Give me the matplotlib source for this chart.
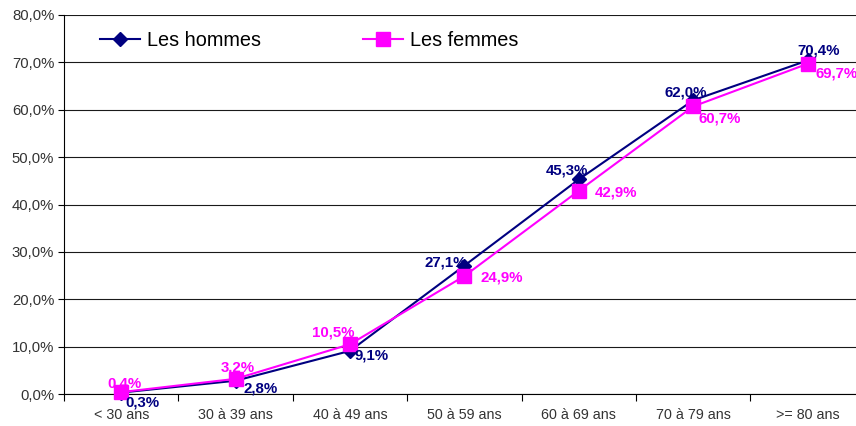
import matplotlib
matplotlib.use("Agg")
import matplotlib.pyplot as plt
from matplotlib.ticker import FuncFormatter

plt.rcParams['font.family'] = ['Liberation Sans', 'DejaVu Sans']

categories = ["< 30 ans", "30 à 39 ans", "40 à 49 ans", "50 à 59 ans",
              "60 à 69 ans", "70 à 79 ans", ">= 80 ans"]
hommes = [0.3, 2.8, 9.1, 27.1, 45.3, 62.0, 70.4]
femmes = [0.4, 3.2, 10.5, 24.9, 42.9, 60.7, 69.7]

# label offsets in pixels (dx, dy with y downward)
off_h = [(21, 10), (25, 8), (22, 5), (-19, -3), (-12, -9), (-7, -8), (11, -10)]
off_f = [(3, -9), (2, -11), (-17, -12), (37, 1), (37, 2), (26, 12), (29, 10)]

NAVY = "#000080"
MAGENTA = "#FF00FF"

W, H = 856, 426
LEFT, TOP, BOTTOM = 64, 15, 394
STEP = 114.4
fig = plt.figure(figsize=(W / 100, H / 100), dpi=100)
ax = fig.add_axes([LEFT / W, (H - BOTTOM) / H, (W - LEFT) / W, (BOTTOM - TOP) / H])

x = list(range(len(categories)))
ax.plot(x, hommes, color=NAVY, lw=1.5, marker="D", ms=7, mfc=NAVY, mec=NAVY,
        label="Les hommes", zorder=3, clip_on=False)
ax.plot(x, femmes, color=MAGENTA, lw=1.5, marker="s", ms=10, mfc=MAGENTA, mec=MAGENTA,
        label="Les femmes", zorder=4, clip_on=False)

px2pt = 0.72
def fmt(v):
    return f"{v:.1f}%".replace(".", ",")

for xi, v, (dx, dy) in zip(x, hommes, off_h):
    ax.annotate(fmt(v), (xi, v), xytext=(dx * px2pt, -dy * px2pt), textcoords="offset points",
                ha="center", va="center", color=NAVY, fontsize=10.8, fontweight="bold",
                zorder=5, annotation_clip=False)
for xi, v, (dx, dy) in zip(x, femmes, off_f):
    ax.annotate(fmt(v), (xi, v), xytext=(dx * px2pt, -dy * px2pt), textcoords="offset points",
                ha="center", va="center", color=MAGENTA, fontsize=10.8, fontweight="bold",
                zorder=5, annotation_clip=False)

ax.set_yticks(range(0, 81, 10))
ax.yaxis.set_major_formatter(FuncFormatter(lambda v, p: f"{v:.1f}%".replace(".", ",")))
ax.yaxis.grid(True, color="#1a1a1a", lw=0.8)
ax.set_axisbelow(True)

ax.set_xticks(x)
ax.set_xticklabels(categories)
ax.set_xticks([i + 0.5 for i in range(-1, 6)], minor=True)
ax.tick_params(axis="x", which="major", length=0, pad=10, labelsize=10.3, labelcolor="#333333")
ax.tick_params(axis="x", which="minor", length=5, width=0.8, direction="out", color="black")
ax.tick_params(axis="y", length=4, width=0.8, direction="out", labelsize=10.7, labelcolor="#333333", pad=3)

# the category axis runs past the right edge of the figure
ax.set_xlim(-0.5, -0.5 + (W - LEFT) / STEP)
ax.set_ylim(0, 80)

for s in ["top", "right"]:
    ax.spines[s].set_visible(False)
ax.spines["left"].set_color("black")
ax.spines["left"].set_linewidth(0.8)
ax.spines["bottom"].set_color("black")
ax.spines["bottom"].set_linewidth(0.8)

leg = ax.legend(ncol=2, loc="center left",
                bbox_to_anchor=((100 - LEFT) / (W - LEFT), (BOTTOM - 40) / (BOTTOM - TOP)),
                frameon=False, fontsize=14.3, handlelength=2.0, handletextpad=0.35,
                columnspacing=5.15, borderaxespad=0, borderpad=0)

fig.savefig("out.png", dpi=100)
